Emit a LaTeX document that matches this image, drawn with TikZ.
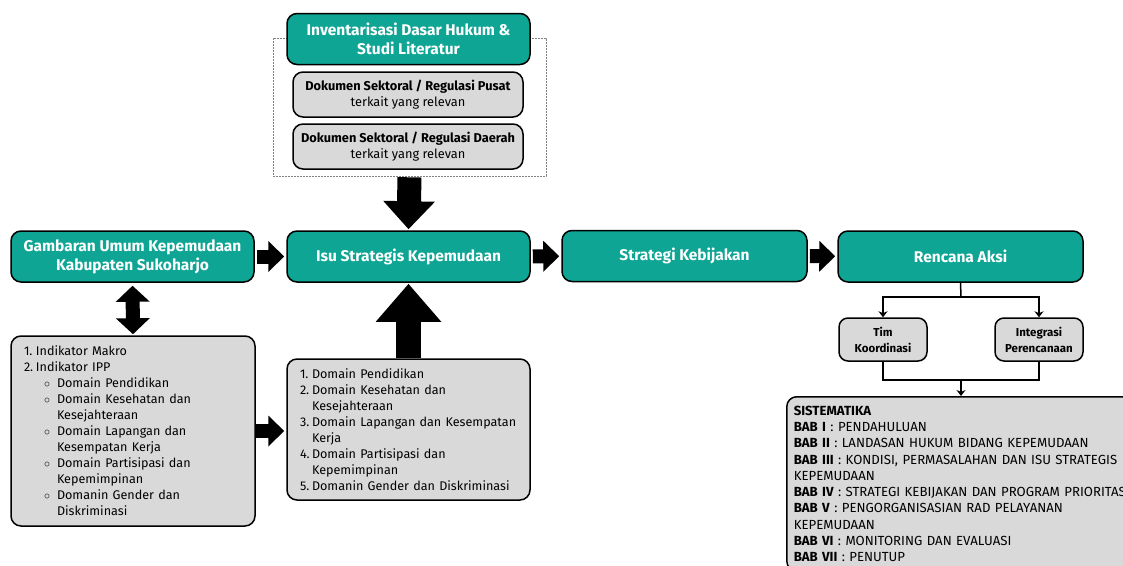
\documentclass[tikz,border=0pt]{standalone}
\usepackage{fontspec}
\setmainfont{Fira Sans}
\usetikzlibrary{arrows.meta, positioning, calc}
\definecolor{tealbox}{RGB}{14,165,148}
\definecolor{graybox}{RGB}{217,217,217}
\tikzstyle{mainbox} = [rectangle, rounded corners=10pt, draw=black, line width=1.5pt, fill=tealbox, text=white, font=\bfseries\fontsize{15.5}{19}\selectfont, align=center, minimum height=51pt]
\tikzstyle{docbox} = [rectangle, rounded corners=10pt, draw=black, line width=1.5pt, fill=graybox, align=center, minimum width=230pt, minimum height=45pt, font=\fontsize{12.8}{15.5}\selectfont]
\tikzstyle{smallbox} = [rectangle, rounded corners=9pt, draw=black, line width=1.5pt, fill=graybox, align=center, minimum width=88pt, minimum height=43pt, inner sep=2pt, font=\bfseries\fontsize{11.5}{16}\selectfont]
\tikzstyle{listbox} = [rectangle, rounded corners=10pt, draw=black, line width=1.5pt, fill=graybox, align=left, inner xsep=13pt, font=\fontsize{12.6}{16}\selectfont]
\tikzstyle{frame} = [rectangle, draw=gray, line width=0.6pt, dash pattern=on 2pt off 1pt]
\tikzstyle{fatarrow} = [line width=14pt, -{Triangle[width=30pt,length=16pt]}]
\tikzstyle{treearrow} = [line width=1.5pt, -{Stealth[length=6pt,width=9pt]}]

\begin{document}
\begin{tikzpicture}[x=1pt, y=-1pt]
\clip (0,0) rectangle (1123,565);
\fill[white] (0,0) rectangle (1123,565);

% Literature block (top)
\node (litbox) [frame, minimum width=273pt, minimum height=138pt] at (409.5,107) {};
\node (inv) [mainbox, minimum width=243pt] at (408.5,39) {Inventarisasi Dasar Hukum \&\\Studi Literatur};
\node (doc1) [docbox] at (408,94.5) {\textbf{Dokumen Sektoral / Regulasi Pusat}\\terkait yang relevan};
\node (doc2) [docbox] at (408,146.5) {\textbf{Dokumen Sektoral / Regulasi Daerah}\\terkait yang relevan};

% Main row
\node (gam) [mainbox, minimum width=243pt] at (132.5,256.5) {Gambaran Umum Kepemudaan\\Kabupaten Sukoharjo};
\node (isu) [mainbox, minimum width=243pt] at (408.5,256.5) {Isu Strategis Kepemudaan};
\node (strat) [mainbox, minimum width=245pt] at (684.5,256) {Strategi Kebijakan};
\node (renc) [mainbox, minimum width=245pt] at (960.5,256.5) {Rencana Aksi};

% Lists
\node (indik) [listbox, text width=218pt, minimum height=190pt] at (133,431) {
\makebox[12pt][l]{1.}Indikator Makro\\
\makebox[12pt][l]{2.}Indikator IPP\\
\hspace*{20pt}\makebox[13pt][l]{$\circ$}Domain Pendidikan\\
\hspace*{20pt}\makebox[13pt][l]{$\circ$}Domain Kesehatan dan\\
\hspace*{33pt}Kesejahteraan\\
\hspace*{20pt}\makebox[13pt][l]{$\circ$}Domain Lapangan dan\\
\hspace*{33pt}Kesempatan Kerja\\
\hspace*{20pt}\makebox[13pt][l]{$\circ$}Domain Partisipasi dan\\
\hspace*{33pt}Kepemimpinan\\
\hspace*{20pt}\makebox[13pt][l]{$\circ$}Domanin Gender dan\\
\hspace*{33pt}Diskriminasi};
\node (domain) [listbox, text width=217pt, minimum height=141pt] at (408.5,429.5) {
\makebox[12pt][l]{1.}Domain Pendidikan\\
\makebox[12pt][l]{2.}Domain Kesehatan dan\\
\hspace*{12pt}Kesejahteraan\\
\makebox[12pt][l]{3.}Domain Lapangan dan Kesempatan\\
\hspace*{12pt}Kerja\\
\makebox[12pt][l]{4.}Domain Partisipasi dan\\
\hspace*{12pt}Kepemimpinan\\
\makebox[12pt][l]{5.}Domanin Gender dan Diskriminasi};

% Action plan tree
\node (tim) [smallbox] at (883,339.5) {Tim\\Koordinasi};
\node (integ) [smallbox] at (1039,339.5) {Integrasi\\Perencanaan};
\node (sist) [listbox, anchor=north west, inner xsep=7pt, inner ysep=9pt, text width=380pt, font=\fontsize{13.2}{16.3}\selectfont] at (786,396) {
\textbf{SISTEMATIKA}\\
\textbf{BAB I} : PENDAHULUAN\\
\textbf{BAB II} : LANDASAN HUKUM BIDANG KEPEMUDAAN\\
\textbf{BAB III} : KONDISI, PERMASALAHAN DAN ISU STRATEGIS\\
KEPEMUDAAN\\
\textbf{BAB IV} : STRATEGI KEBIJAKAN DAN PROGRAM PRIORITAS\\
\textbf{BAB V} : PENGORGANISASIAN RAD PELAYANAN\\
KEPEMUDAAN\\
\textbf{BAB VI} : MONITORING DAN EVALUASI\\
\textbf{BAB VII} : PENUTUP};

% Fat arrows
\draw [fatarrow, shorten <=2pt, shorten >=2pt] (gam) -- (isu);
\draw [fatarrow, shorten <=2pt, shorten >=2pt] (isu) -- (strat);
\draw [fatarrow, shorten <=2pt, shorten >=2pt] (strat) -- (renc);
\draw [fatarrow, shorten >=2pt] (indik.east) -- (indik.east -| domain.west);
\draw [line width=24pt, -{Triangle[width=50pt,length=28pt]}, shorten <=1pt, shorten >=1pt] (litbox.south) -- (isu.north);
\draw [line width=25pt, -{Triangle[width=63pt,length=38pt]}, shorten >=1pt] (domain.north) -- (isu.south);
\draw [line width=14pt, {Triangle[width=33pt,length=16pt]}-{Triangle[width=33pt,length=16pt]}, shorten <=3pt, shorten >=1pt] (gam.south) -- (indik.north);

% Tree connectors
\coordinate (split) at (961,297);
\coordinate (join) at (961,380);
\draw [line width=1.5pt] (renc.south) -- (split);
\draw [treearrow] (split) -| (tim.north);
\draw [treearrow] (split) -| (integ.north);
\draw [line width=1.5pt] (tim.south) |- (join) -| (integ.south);
\draw [treearrow] (join) -- (join |- sist.north);

\end{tikzpicture}
\end{document}
